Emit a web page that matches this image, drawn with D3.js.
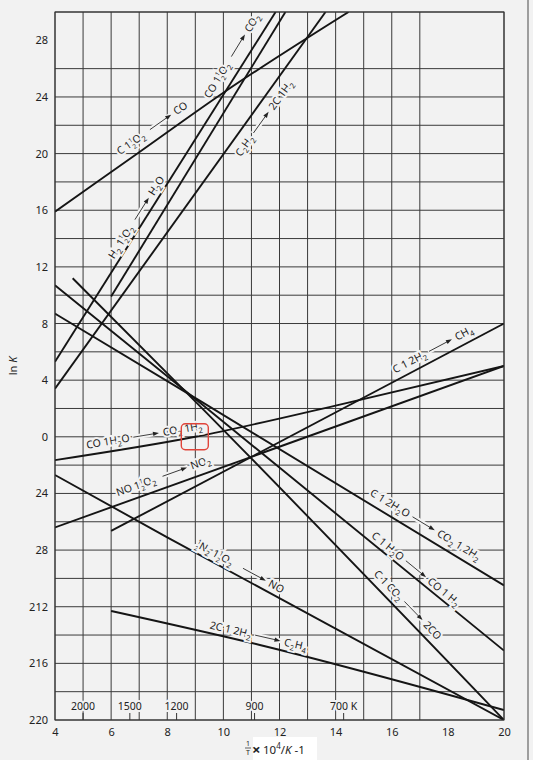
<!DOCTYPE html>
<html>
<head>
<meta charset="utf-8">
<script src="https://cdn.jsdelivr.net/npm/d3@7"></script>
<style>
  body { margin: 0; background: #f2f2f2; }
  svg { display: block; }
  text { font-family: "Noto Sans", "DejaVu Sans", sans-serif; fill: #222; }
</style>
</head>
<body>
<div id="chart"></div>
<script>
// ---- data ----
var xTicks = [4, 6, 8, 10, 12, 14, 16, 18, 20];
var yTicks = [28, 24, 20, 16, 12, 8, 4, 0, -4, -8, -12, -16, -20];
var yTickLabels = ["28", "24", "20", "16", "12", "8", "4", "0", "24", "28", "212", "216", "220"];
var gridX = [4, 5, 6, 7, 8, 9, 10, 11, 12, 13, 14, 15, 16, 17, 20];
var gridY = [-20, -18, -16, -14, -12, -10, -8, -6, -4, -2, 0, 2, 4, 6, 8, 10, 12, 14, 16, 18, 20, 22, 24, 26, 30];
var tempValues = [2000, 1500, 1200, 900, 700];
var tempLabels = ["2000", "1500", "1200", "900", "700 K"];

// each reaction: points [1e4/T, ln K]
var lineCO      = [[4, 15.9], [7, 20.1], [10, 24.3], [14.46, 30]];
var lineH2O     = [[4, 5.3], [11.86, 30]];
var lineCO2     = [[6, 9.9], [12.21, 30]];
var lineC2H2    = [[4, 3.4], [13.64, 30]];
var lineShift   = [[4, -1.65], [9, 0], [14, 2.2], [20, 5]];
var lineNO2     = [[4, -6.4], [20, 5]];
var lineCH4     = [[6, -6.65], [20, 8]];
var lineWaterG2 = [[4, 8.7], [9.2, 2.5], [20, -10.5]];
var lineWaterG  = [[4, 10.7], [9.2, 2.35], [20, -15.1]];
var lineBoud    = [[4.63, 11.2], [9.2, 2.1], [20, -20]];
var lineNO      = [[4, -2.7], [8, -7.1], [20, -20]];
var lineC2H4    = [[6, -12.3], [11.3, -14.7], [20, -19.3]];

var seriesLines = [lineCO, lineH2O, lineCO2, lineC2H2, lineShift, lineNO2, lineCH4,
                   lineWaterG2, lineWaterG, lineBoud, lineNO, lineC2H4];

// label text: left side -> right side  ("_" subscript, "{h}" one half)
var labelLeft  = ["C 1{h}O_2", "H_2 1{h}O_2", "CO 1{h}O_2", "C_2H_2", "CO 1H_2O", "NO 1{h}O_2",
                  "C 1 2H_2", "C 1 2H_2O", "C 1 H_2O", "C 1 CO_2", "{h}N_2 1{h}O_2", "2C 1 2H_2"];
var labelRight = ["CO", "H_2O", "CO_2", "2C 1H_2", "CO_2 1H_2", "NO_2",
                  "CH_4", "CO_2 1 2H_2", "CO 1 H_2", "2CO", "NO", "C_2H_4"];
var labelLines = [lineCO, lineH2O, lineCO2, lineC2H2, lineShift, lineNO2,
                  lineCH4, lineWaterG2, lineWaterG, lineBoud, lineNO, lineC2H4];
// where each label sits (data units)
var labelAt = [[7.46, 21.8], [6.9, 15.5], [10.3, 26.9], [11.45, 22.5], [7.18, 0.1], [7.86, -2.77],
               [17.46, 6.17], [17.2, -6.2], [16.86, -9.33], [16.57, -11.87], [10.6, -9.18], [11.25, -14.06]];

// ---- layout ----
var svgWidth = 533, svgHeight = 760;
var bg = "#f2f2f2";

var svg = d3.select("#chart").append("svg")
  .attr("width", svgWidth)
  .attr("height", svgHeight);

svg.append("rect").attr("width", svgWidth).attr("height", svgHeight).attr("fill", bg);

var x = d3.scaleLinear().domain([4, 20]).range([55, 504]);
var y = d3.scaleLinear().domain([-20, 30]).range([720, 12]);

svg.append("clipPath").attr("id", "plot")
  .append("rect")
  .attr("x", x(4)).attr("y", y(30))
  .attr("width", x(20) - x(4)).attr("height", y(-20) - y(30));

// grid
var grid = svg.append("g").attr("stroke", "#3a3a3a").attr("stroke-width", 1);
grid.selectAll(".gx").data(gridX).enter().append("line")
  .attr("x1", d => x(d)).attr("x2", d => x(d))
  .attr("y1", y(30)).attr("y2", y(-20));
grid.selectAll(".gy").data(gridY).enter().append("line")
  .attr("x1", x(4)).attr("x2", x(20))
  .attr("y1", d => y(d)).attr("y2", d => y(d));

// axes (labels only)
var bottomAxis = d3.axisBottom(x).tickValues(xTicks).tickSize(0).tickPadding(8);
var leftAxis = d3.axisLeft(y).tickValues(yTicks).tickSize(0).tickPadding(7)
  .tickFormat((d, i) => yTickLabels[i]);

var gx = svg.append("g").attr("transform", `translate(0, ${y(-20)})`).call(bottomAxis);
var gy = svg.append("g").attr("transform", `translate(${x(4)}, 0)`).call(leftAxis);
[gx, gy].forEach(g => {
  g.select(".domain").remove();
  g.selectAll("text").attr("font-size", 11).attr("fill", "#222")
    .attr("font-family", '"Noto Sans", sans-serif');
});

// temperature marks
svg.selectAll(".tt").data(tempValues).enter().append("line")
  .attr("x1", d => x(1e4 / d)).attr("x2", d => x(1e4 / d))
  .attr("y1", y(-20)).attr("y2", y(-20) - 7)
  .attr("stroke", "#333");
svg.selectAll(".tl").data(tempValues).enter().append("text")
  .attr("x", d => x(1e4 / d)).attr("y", y(-20) - 10)
  .attr("text-anchor", "middle").attr("font-size", 10.5)
  .attr("stroke", bg).attr("stroke-width", 4).attr("paint-order", "stroke")
  .text((d, i) => tempLabels[i]);

// reaction lines
var line = d3.line().x(d => x(d[0])).y(d => y(d[1])).curve(d3.curveMonotoneX);
svg.append("g").attr("clip-path", "url(#plot)")
  .selectAll("path").data(seriesLines).enter().append("path")
  .attr("d", line)
  .attr("fill", "none").attr("stroke", "#151515").attr("stroke-width", 1.9);

// rich text helper
function richText(sel, str, fs) {
  var cur = 0;
  function span(t, off, size, dx) {
    var s = sel.append("tspan").attr("dy", off - cur).text(t);
    cur = off;
    if (size) s.attr("font-size", size);
    if (dx) s.attr("dx", dx);
  }
  var buf = "";
  function flush() { if (buf) { span(buf, 0); buf = ""; } }
  for (var i = 0; i < str.length; i++) {
    if (str[i] === "_") {
      flush(); span(str[i + 1], fs * 0.3, fs * 0.72); i++;
    } else if (str.substr(i, 3) === "{h}") {
      flush();
      span("1", -fs * 0.38, fs * 0.62);
      span("2", fs * 0.32, fs * 0.62, -fs * 0.62 * 0.57);
      i += 2;
    } else {
      buf += str[i];
    }
  }
  flush();
}

function slopeAngle(pts, at) {
  var k = 0;
  while (k < pts.length - 2 && at > pts[k + 1][0]) k++;
  var a = pts[k], b = pts[k + 1];
  return Math.atan2(y(b[1]) - y(a[1]), x(b[0]) - x(a[0])) * 180 / Math.PI;
}

// reaction labels
var fs = 10.5, gap = 4, arrowLen = 26;
labelLeft.forEach(function(lt, i) {
  var ang = slopeAngle(labelLines[i], labelAt[i][0]);
  var g = svg.append("g")
    .attr("transform", `translate(${x(labelAt[i][0])}, ${y(labelAt[i][1])}) rotate(${ang})`);
  var inner = g.append("g");
  var t1 = inner.append("text").attr("font-size", fs).attr("y", fs * 0.35)
    .attr("stroke", bg).attr("stroke-width", 4).attr("paint-order", "stroke");
  richText(t1, lt, fs);
  var w1 = t1.node().getComputedTextLength();
  var ax0 = w1 + gap, ax1 = ax0 + arrowLen;
  inner.append("line").attr("x1", ax0 - 1).attr("x2", ax1 + 1).attr("y1", 0).attr("y2", 0)
    .attr("stroke", bg).attr("stroke-width", 5);
  inner.append("line").attr("x1", ax0).attr("x2", ax1 - 4).attr("y1", 0).attr("y2", 0)
    .attr("stroke", "#222").attr("stroke-width", 0.8);
  inner.append("path").attr("d", `M${ax1},0L${ax1 - 6},-2.2L${ax1 - 6},2.2Z`).attr("fill", "#222");
  var t2 = inner.append("text").attr("font-size", fs).attr("x", ax1 + gap).attr("y", fs * 0.35)
    .attr("stroke", bg).attr("stroke-width", 4).attr("paint-order", "stroke");
  richText(t2, labelRight[i], fs);
  var w2 = t2.node().getComputedTextLength();
  inner.attr("transform", `translate(${-(ax1 + gap + w2) / 2}, 0)`);
});

// plot frame
svg.append("rect")
  .attr("x", x(4)).attr("y", y(30))
  .attr("width", x(20) - x(4)).attr("height", y(-20) - y(30))
  .attr("fill", "none").attr("stroke", "#333").attr("stroke-width", 1);

// red highlight box
svg.append("rect")
  .attr("x", x(9) - 14).attr("y", y(0) - 13)
  .attr("width", 27).attr("height", 26).attr("rx", 4)
  .attr("fill", "none").attr("stroke", "#e0443a").attr("stroke-width", 1.4);

// right page edge
svg.append("line").attr("x1", 528).attr("x2", 528).attr("y1", 0).attr("y2", svgHeight)
  .attr("stroke", "#666").attr("stroke-width", 1.2);

// y title
svg.append("text")
  .attr("transform", "translate(17, 366) rotate(-90)")
  .attr("text-anchor", "middle").attr("font-size", 11)
  .html('ln <tspan font-style="italic">K</tspan>');

// x title
svg.append("rect").attr("x", 253).attr("y", 737).attr("width", 64).attr("height", 23).attr("fill", "#fff");
var xt = svg.append("g");
xt.append("text").attr("x", 248).attr("y", 746).attr("text-anchor", "middle").attr("font-size", 7).text("1");
xt.append("line").attr("x1", 245).attr("x2", 251).attr("y1", 748).attr("y2", 748).attr("stroke", "#222").attr("stroke-width", 0.7);
xt.append("text").attr("x", 248).attr("y", 755).attr("text-anchor", "middle").attr("font-size", 7).text("T");
xt.append("text").attr("x", 252).attr("y", 755).attr("font-size", 15).attr("font-weight", "bold").text("\u00d7");
var xt2 = xt.append("text").attr("x", 263).attr("y", 754).attr("font-size", 11.5);
xt2.append("tspan").text("10");
xt2.append("tspan").attr("dy", -5).attr("font-size", 8).text("4");
xt2.append("tspan").attr("dy", 5).text("/");
xt2.append("tspan").attr("font-style", "italic").text("K");
xt2.append("tspan").text(" -1");
</script>
</body>
</html>
